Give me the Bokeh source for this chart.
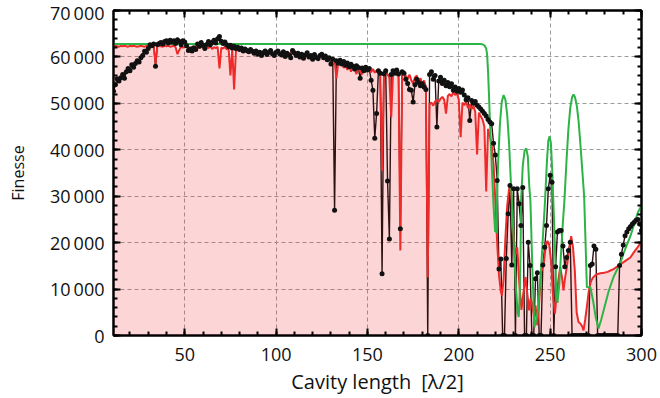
from bokeh.plotting import figure
from bokeh.models import Range1d, FixedTicker, LinearAxis
from bokeh.embed import file_html
from bokeh.resources import INLINE

nan = float("nan")

# ---------------- data ----------------
# measured finesse (black dots), one point per cavity length 11..300
cavity_length = list(range(11, 301))
measured = [
    52600, 54000, 55300, 54800, 55500, 56200, 55400, 56800, 57500, 57000,   # 11-20
    58300, 57800, 58600, 59200, 58900, 59800, 60300, 61200, 61000, 61800,   # 21-30
    62600, 62400, 62800, 58000, 62700, 62900, 63100, 62800, 63300, 63500,   # 31-40
    63000, 63600, 63200, 63500, 62900, 63700, 63300, 62600, 63500, 63200,   # 41-50
    62400, 61400, 61700, 61300, 62000, 61600, 62800, 62300, 63100, 62500,   # 51-60
    61800, 62700, 63300, 62600, 63100, 63600, 63000, 63900, 64400, 63400,   # 61-70
    62900, 63200, 62600, 62200, 62500, 61900, 62300, 61800, 62100, 61600,   # 71-80
    61900, 61300, 61700, 61400, 61100, 61600, 61200, 60800, 61300, 60600,   # 81-90
    61000, 60300, 60900, 61300, 60500, 61000, 61400, 60700, 60300, 61000,   # 91-100
    61300, 60700, 60400, 61100, 60100, 60800, 60400, 59800, 61400, 60900,   # 101-110
    60300, 60800, 60000, 60600, 59700, 60400, 60900, 60000, 60300, 59500,   # 111-120
    60500, 59900, 59600, 60300, 60600, 59800, 60200, 59400, 59800, 58500,   # 121-130
    59500, 27000, 59200, 58700, 59300, 58500, 59000, 58200, 58700, 57900,   # 131-140
    58400, 58000, 57400, 58100, 57700, 55400, 57600, 57000, 57800, 57200,   # 141-150
    57500, 55000, 52800, 42500, 47800, 57000, 56500, 13300, 56400, 57000,   # 151-160
    33300, 20800, 56200, 57000, 56500, 57200, 56300, 23000, 56800, 56500,   # 161-170
    55200, 54300, 53000, 52800, 50300, 54000, 55200, 54500, 53800, 54200,   # 171-180
    53500, 53000, 0, 56200, 56800, 55200, 56000, 44900, 54800, 55600,       # 181-190
    54300, 55000, 53800, 54500, 53600, 54200, 52800, 53500, 52600, 53200,   # 191-200
    52400, 52900, 51800, 50800, 51200, 46300, 50600, 50000, 50400, 49600,   # 201-210
    49200, 48800, 48300, 47800, 47300, 46500, 46000, 45600, 41400, 38900,   # 211-220
    33400, 14300, 16500, 0, 0, 16600, 26200, 32300, 15200, 31600,           # 221-230
    0, 31600, 28400, 23700, 31900, 0, 0, 20100, 15100, 0,                   # 231-240
    0, 12200, 13500, 0, 0, 15200, 19000, 23700, 31600, 34500,               # 241-250
    33000, 0, 14800, 22300, 22600, 22600, 19300, 14800, 16800, 18300,       # 251-260
    20100, 0, 0, 0, 0, 0, 0, 0, 0, 0,                                       # 261-270
    0, 15100, 15400, 19300, 18600, 0, 0, 0, 0, 0,                           # 271-280
    0, 0, 0, 0, 0, 0, 0, 15100, 17500, 19500,                               # 281-290
    21500, 22300, 23000, 23500, 24000, 24400, 24800, 25000, 24000, 22600,   # 291-300
]

# simulated finesse (red), integer steps 11..220 then finer points
sim_x_a = list(range(11, 221))
sim_y_a = [
    62300, 62400, 62300, 62200, 62400, 62300, 62400, 62300, 62200, 62400,   # 11-20
    62300, 62400, 62300, 62200, 62300, 62400, 62300, 62200, 62400, 62300,   # 21-30
    62300, 62200, 62400, 58500, 62300, 62400, 62300, 62200, 62400, 62300,   # 31-40
    62400, 62200, 62300, 62400, 62100, 60600, 61500, 62300, 62000, 62200,   # 41-50
    62400, 62100, 61800, 62200, 62000, 61700, 62300, 61900, 62200, 62000,   # 51-60
    61800, 62200, 61900, 62300, 61700, 62100, 61900, 62200, 57500, 62000,   # 61-70
    61800, 62200, 61600, 61900, 56000, 61800, 53000, 61400, 61900, 61500,   # 71-80
    61800, 61200, 61600, 61400, 61000, 61500, 61300, 60900, 61400, 60800,   # 81-90
    61200, 60700, 61100, 61400, 60600, 61000, 61300, 60800, 60500, 61000,   # 91-100
    61200, 60600, 60900, 61100, 60200, 60700, 60400, 60900, 61100, 60500,   # 101-110
    60300, 60700, 60100, 60600, 59900, 60300, 60700, 59800, 60200, 59600,   # 111-120
    60300, 59800, 59500, 60200, 60400, 59700, 60000, 59400, 59900, 59500,   # 121-130
    59800, 59600, 55300, 58800, 58200, 58900, 57600, 58500, 57200, 58300,   # 131-140
    56800, 58000, 57400, 56300, 57800, 57000, 56200, 57600, 56800, 57500,   # 141-150
    57300, 56700, 57400, 56600, 57100, 56400, 57000, 35500, 56500, 57000,   # 151-160
    56200, 55600, 47000, 56500, 57300, 56800, 57100, 18300, 56900, 56400,   # 161-170
    55900, 55300, 56200, 55000, 54300, 55600, 56000, 54600, 55400, 54200,   # 171-180
    54900, 53500, 12500, 49800, 50200, 49500, 50400, 50800, 50300, 51000,   # 181-190
    51400, 50800, 47800, 51600, 52000, 51500, 52400, 51800, 52200, 50800,   # 191-200
    42700, 50200, 49600, 50400, 49000, 49800, 48800, 49400, 48200, 39000,   # 201-210
    48000, 47200, 46500, 45000, 31000, 44500, 43000, 41000, 37000, 29000,   # 211-220
]
sim_x_b = [221, 222, 223, 223.6, 224.5, 225.5, 226.5, 227.5, 228.2, 229, 230, 231, 232,
           233, 234.3, 235.3, 236.5, 237.5, 238.5, 239.3, 240, 241.2, 242, 243, 243.8,
           245, 246.5, 247.5, 248.5, 249.5, 250.5, 251.5, 252.6, 253.5, 254.5, 255.5,
           256.5, 257.3, 258.2, 259.1, 260.2, 261.5, 262.5, 263.5, 264.5, 265.5, 266.5,
           267.5, 268.3, 269.2, 270.2, 271.2, 272.2, 273.3, 274.5, 275.8, 277.5, 279.5,
           281.5, 283, 284.7, 286.5, 288.3, 290.2, 292, 293.9, 295.6, 297.5, 299.3, 300]
sim_y_b = [20000, 13000, 9500, 8600, 12000, 21000, 28000, 31500, 32300, 29000, 21000, 17500, 19000,
           12000, 5500, 9000, 12600, 9000, 5400, 8000, 7200, 3800, 6500, 2200, 6000,
           13500, 15500, 19000, 20400, 19500, 16000, 9000, 4700, 8500, 12000, 14700,
           12500, 9700, 12500, 14700, 18000, 21400, 19000, 14000, 5000, 2900, 2600,
           2000, 1100, 3500, 6500, 9700, 11500, 12400, 12900, 13200, 13400, 13500,
           13700, 14000, 14300, 14800, 15300, 15800, 16300, 16800, 17800, 18800, 19800, 20100]
sim_x = sim_x_a + sim_x_b
sim_y = sim_y_a + sim_y_b

# ideal-mirror model (green)
model_x = [11, 212, 213, 214, 215, 215.5, 216, 216.5, 217, 218, 219, 219.9, 220.2,
           220.6, 220.9, 221.5, 222.5, 223.5, 224.5, 225.5, 226.5, 227.5, 228.5, 229.1,
           230.3, 231.3, 232.2, 232.8, 233.3, 233.8, 234.1, 235, 236, 236.9, 237.8, 238.6,
           239.2, 240.3, 241.4, 242.5, 243.5, 245, 246, 247.2, 248.3, 249, 249.7, 250.4,
           251.2, 252, 252.8, 253.3, 254, 255, 256, 257, 257.8, 259, 260, 261, 262, 262.8,
           263.6, 264.6, 265.6, 266.6, 267.6, 268.6, 269.3, 270.1, 272, 273.5, 275, 276.5,
           278, 280, 282, 284.7, 287, 288.3, 290, 292, 294, 296, 298, 300]
model_y = [62800, 62800, 62700, 62500, 61800, 60500, 57000, 52000, 46500, 37000, 28000, 22300, nan,
           22000, 29000, 37000, 45500, 50300, 51800, 50800, 47500, 41500, 33000, 29000,
           18000, 10000, 5000, 4000, 8000, 18000, 29000, 36500, 39800, 40300, 38500, 32000,
           29000, 14000, 1800, 3500, 6000, 14000, 21000, 29000, 38000, 42000, 42900, 41500,
           35000, 26000, 17000, 10000, 7000, 11000, 18000, 24500, 29000, 38000, 44500, 49000, 51300, 51900,
           51300, 49500, 46000, 41000, 35500, 30000, 21000, 10400, 10400, 7500, 3800, 1500,
           3500, 6500, 9500, 12600, 14500, 15400, 17500, 19500, 21500, 24000, 26500, 28000]

x_major = [50, 100, 150, 200, 250, 300]
x_minor = list(range(20, 301, 10))
y_major = [0, 10000, 20000, 30000, 40000, 50000, 60000, 70000]
y_minor = list(range(0, 70001, 2000))
y_tick_labels = {v: (f"{v // 1000}\u2009000" if v else "0") for v in y_major}

FONT = "Open Sans"

# ---------------- figure ----------------
p = figure(width=660, height=398, x_range=Range1d(11, 300), y_range=Range1d(0, 70000),
           output_backend="svg", toolbar_location=None,
           min_border_left=113, min_border_right=19, min_border_top=10, min_border_bottom=63)
p.background_fill_color = "white"
p.border_fill_color = "white"
p.outline_line_color = "black"
p.outline_line_width = 2

xt = FixedTicker(ticks=x_major, minor_ticks=x_minor)
yt = FixedTicker(ticks=y_major, minor_ticks=y_minor)


def style_axis(ax, ticker, labels):
    ax.ticker = ticker
    ax.major_tick_in = 7
    ax.major_tick_out = 0
    ax.minor_tick_in = 4
    ax.minor_tick_out = 0
    ax.major_tick_line_width = 2
    ax.minor_tick_line_width = 2
    ax.major_tick_line_color = "black"
    ax.minor_tick_line_color = "black"
    ax.axis_line_width = 2
    ax.axis_line_color = "black"
    ax.major_label_text_font = FONT
    if labels:
        ax.major_label_text_font_size = "18px"
        ax.major_label_text_color = "#111111"
    else:
        ax.major_label_text_font_size = "1px"
        ax.major_label_text_color = None
        ax.major_label_standoff = 0


xa = p.xaxis[0]
ya = p.yaxis[0]
style_axis(xa, xt, True)
style_axis(ya, yt, True)
ya.major_label_overrides = y_tick_labels
xa.major_label_standoff = 12
ya.major_label_standoff = 9
xa.axis_label = "Cavity length\u2002[\u03bb/2]"
ya.axis_label = "Finesse"
for ax in (xa, ya):
    ax.axis_label_text_font = FONT
    ax.axis_label_text_font_style = "normal"
    ax.axis_label_text_color = "#111111"
xa.axis_label_text_font_size = "20px"
ya.axis_label_text_font_size = "16px"
xa.axis_label_standoff = 4
ya.axis_label_standoff = 18

top = LinearAxis()
right = LinearAxis()
style_axis(top, xt, False)
style_axis(right, yt, False)
p.add_layout(top, "above")
p.add_layout(right, "right")

for g, t in ((p.xgrid[0], xt), (p.ygrid[0], yt)):
    g.ticker = t
    g.grid_line_color = "#9a9a9a"
    g.grid_line_dash = "4 3"
    g.grid_line_width = 1

# ---------------- glyphs ----------------
p.varea(x=sim_x, y1=[0] * len(sim_x), y2=sim_y, fill_color="#f23030", fill_alpha=0.2)
p.line(cavity_length, measured, line_color="#2e1010", line_width=1.4)
p.line(sim_x, sim_y, line_color="#ee2a2a", line_width=2)
p.line(model_x, model_y, line_color="#2db446", line_width=2)
p.scatter(cavity_length, measured, size=5, fill_color="#111111", line_color=None)

open("out.html", "w").write(file_html(p, INLINE))
